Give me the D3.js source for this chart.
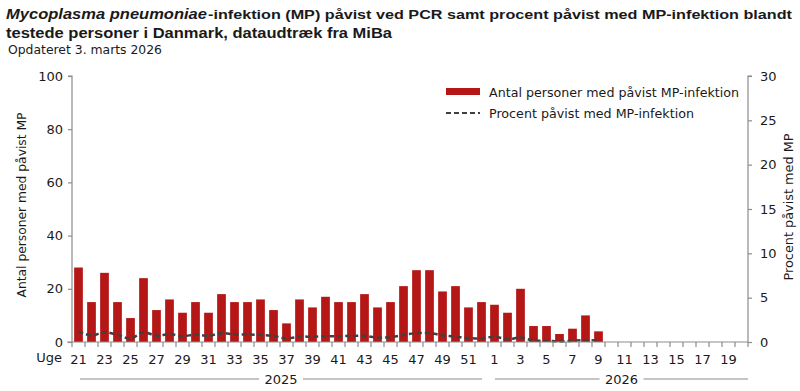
<!DOCTYPE html>
<html><head><meta charset="utf-8">
<script src="https://cdn.jsdelivr.net/npm/d3@7"></script>
<style>
body{margin:0;background:#fff;}
svg{display:block;font-family:"DejaVu Sans",sans-serif;}
</style></head>
<body><svg id="c" width="800" height="391"></svg>
<script>
const weeks = [21,22,23,24,25,26,27,28,29,30,31,32,33,34,35,36,37,38,39,40,41,42,43,44,45,46,47,48,49,50,51,52,
               1,2,3,4,5,6,7,8,9,10,11,12,13,14,15,16,17,18,19,20];
const years = ["2025","2026"];
const yearSpans = [[0,31],[32,51]];
const antal = [28,15,26,15,9,24,12,16,11,15,11,18,15,15,16,12,7,16,13,17,15,15,18,13,15,21,27,27,19,21,13,15,
               14,11,20,6,6,3,5,10,4];
const procent = [1.2,0.75,1.1,0.8,0.4,1.1,0.7,0.9,0.65,0.85,0.7,1.0,0.85,0.85,0.8,0.7,0.4,0.6,0.6,0.65,0.65,0.7,0.7,0.5,0.55,0.8,1.0,1.0,0.75,0.6,0.45,0.4,
                 0.6,0.3,0.5,0.15,0.15,0.05,0.15,0.2,0.15];
const leftTicks = [0,20,40,60,80,100];
const rightTicks = [0,5,10,15,20,25,30];
const titleItalic = "Mycoplasma pneumoniae";
const titleLines = ["-infektion (MP) påvist ved PCR samt procent påvist med MP-infektion blandt","testede personer i Danmark, dataudtræk fra MiBa"];
const subtitle = "Opdateret 3. marts 2026";
const legendLabels = ["Antal personer med påvist MP-infektion","Procent påvist med MP-infektion"];

const svg = d3.select("#c");
const L = 72, R = 748, T = 76, B = 342;
const x = d3.scaleBand().domain(d3.range(weeks.length)).range([L,R]).paddingInner(0.33).paddingOuter(0.165);
const xb = d3.scaleBand().domain(d3.range(weeks.length)).range([L,R]);
const yL = d3.scaleLinear().domain([0,100]).range([B,T]);
const yR = d3.scaleLinear().domain([0,30]).range([B,T]);
const txt = "#1a1a1a", axc = "#8c8c8c", red = "#B51616";
const TF = "'Liberation Sans', Arial, sans-serif";

function fit(sel, len){ return sel.attr("textLength",len).attr("lengthAdjust","spacingAndGlyphs"); }

// title
fit(svg.append("text").attr("x",6).attr("y",19).attr("font-family",TF).attr("font-size",14).attr("font-weight","bold").attr("font-style","italic")
  .attr("fill",txt).text(titleItalic), 201);
fit(svg.append("text").attr("x",208).attr("y",19).attr("font-family",TF).attr("font-size",13.5).attr("font-weight","bold")
  .attr("fill",txt).text(titleLines[0]), 584);
fit(svg.append("text").attr("x",6).attr("y",38).attr("font-family",TF).attr("font-size",14).attr("font-weight","bold").attr("fill",txt)
  .text(titleLines[1]), 386);
fit(svg.append("text").attr("x",8).attr("y",54).attr("font-size",12).attr("fill",txt).text(subtitle), 154);

// bars
svg.append("g").selectAll("rect").data(antal).join("rect")
  .attr("x",(d,i)=>x(i)).attr("width",x.bandwidth())
  .attr("y",d=>yL(d)).attr("height",d=>B-yL(d)).attr("fill",red);

// line
const line = d3.line().x((d,i)=>xb(i)+xb.bandwidth()/2).y(d=>yR(d)).curve(d3.curveCatmullRom.alpha(0.5));
svg.append("path").datum(procent).attr("d",line).attr("fill","none").attr("stroke","#404040")
  .attr("stroke-width",2.5).attr("stroke-dasharray","5,3");

// left axis
const gl = svg.append("g").attr("transform",`translate(${L},0)`)
  .call(d3.axisLeft(yL).tickValues(leftTicks).tickSize(4).tickPadding(5));
// right axis
const gr = svg.append("g").attr("transform",`translate(${R},0)`)
  .call(d3.axisRight(yR).tickValues(rightTicks).tickSize(4).tickPadding(8));
[gl,gr].forEach(g=>{
  g.select(".domain").attr("stroke",axc).attr("stroke-width",1.2);
  g.selectAll(".tick line").attr("stroke",axc).attr("stroke-width",1.2);
  g.selectAll("text").attr("font-size",13).attr("fill",txt).attr("font-family","DejaVu Sans");
});
gl.select(".domain").attr("d",`M-4,${T}H0V${B}`);
gr.select(".domain").attr("d",`M4,${T}H0V${B}`);

// bottom axis
const gx = svg.append("g").attr("transform",`translate(0,${B})`);
gx.append("line").attr("x1",L-5).attr("x2",R).attr("stroke",axc).attr("stroke-width",1.2);
gx.selectAll("line.tk").data(d3.range(weeks.length+1)).join("line").attr("class","tk")
  .attr("x1",i=>L+i*xb.bandwidth()).attr("x2",i=>L+i*xb.bandwidth())
  .attr("y1",0).attr("y2",5).attr("stroke",axc).attr("stroke-width",1.2);
gx.selectAll("text.wk").data(weeks.map((w,i)=>({w,i})).filter(d=>d.i%2===0)).join("text").attr("class","wk")
  .attr("x",d=>xb(d.i)+xb.bandwidth()/2).attr("y",22).attr("text-anchor","middle")
  .attr("font-size",13).attr("fill",txt).text(d=>d.w);
svg.append("text").attr("x",62).attr("y",362).attr("text-anchor","end").attr("font-size",13).attr("fill",txt).text("Uge");

// year brackets
yearSpans.forEach((s,k)=>{
  const x0 = xb(s[0]) + (k===0?8:7), x1 = xb(s[1]) + xb.bandwidth() - (k===0?6:0);
  const cx = (x0+x1)/2;
  const tw = 44;
  svg.append("line").attr("x1",x0).attr("x2",cx-tw/2).attr("y1",379).attr("y2",379).attr("stroke",axc).attr("stroke-width",1.2);
  svg.append("line").attr("x1",cx+tw/2).attr("x2",x1).attr("y1",379).attr("y2",379).attr("stroke",axc).attr("stroke-width",1.2);
  svg.append("text").attr("x",cx).attr("y",384).attr("text-anchor","middle").attr("font-size",13).attr("fill",txt).text(years[k]);
});

// axis titles
fit(svg.append("text").attr("transform",`translate(26,205) rotate(-90)`).attr("text-anchor","middle")
  .attr("font-size",13).attr("fill",txt).text("Antal personer med påvist MP"), 185);
fit(svg.append("text").attr("transform",`translate(793,207) rotate(-90)`).attr("text-anchor","middle")
  .attr("font-size",13).attr("fill",txt).text("Procent påvist med MP"), 147);

// legend
const lg = svg.append("g");
lg.append("rect").attr("x",446).attr("y",88).attr("width",34).attr("height",7).attr("fill",red);
lg.append("line").attr("x1",446).attr("x2",480).attr("y1",113).attr("y2",113).attr("stroke","#404040")
  .attr("stroke-width",2).attr("stroke-dasharray","5,3");
fit(lg.append("text").attr("x",489).attr("y",97).attr("font-size",13).attr("fill",txt).text(legendLabels[0]), 250);
fit(lg.append("text").attr("x",489).attr("y",118).attr("font-size",13).attr("fill",txt).text(legendLabels[1]), 205);
</script></body></html>
